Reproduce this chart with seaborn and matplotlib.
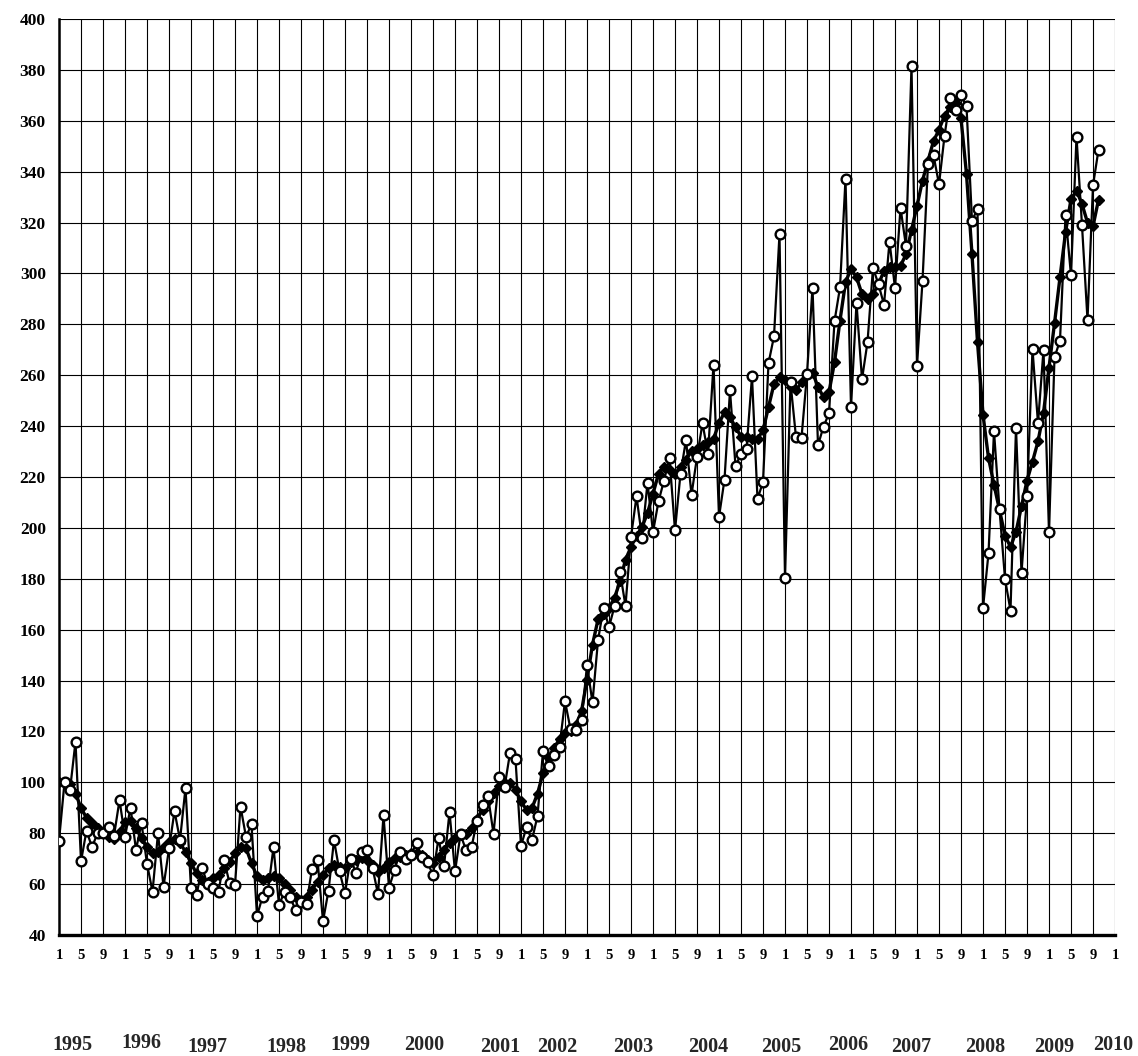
import numpy as np
import pandas as pd
import matplotlib
matplotlib.use("Agg")
import matplotlib.pyplot as plt
import seaborn as sns

# ---------------- data (monthly index, Jan 1995 = month 0) ----------------
monthly_values = [
    77, 100, 97, 116, 69, 81, 74.5, 80, 80, 82.5, 79, 93,
    78.6, 90, 73.5, 84, 68, 57, 80, 59, 74, 88.7, 77.3, 97.8,
    58.3, 55.7, 66.5, 60, 58.5, 57, 69.5, 60.5, 59.6, 90.5, 78.6, 83.5,
    47.5, 55, 57.4, 74.5, 51.8, 57, 54.8, 50, 53, 52.2, 66, 69.5,
    45.5, 57.4, 77.3, 65, 56.4, 70, 64.5, 72.7, 73.4, 66.5, 56, 87,
    58.6, 65.5, 72.6, 70, 71.4, 76, 70.7, 68.5, 63.6, 78, 67, 88.4,
    65, 79.5, 73.4, 74.4, 85, 91, 94.6, 79.8, 102, 98, 111.5, 109,
    75, 82.4, 77.3, 86.8, 112.2, 106.4, 110.6, 114, 131.9, 120.9, 120.5, 124.4,
    146, 131.4, 155.8, 168.6, 161, 169.2, 182.6, 169.4, 196.4, 212.4, 196.2, 217.7,
    198.4, 210.4, 218.6, 227.4, 199, 221.3, 234.6, 213, 227.8, 241.1, 229.1, 264.2,
    204.3, 219, 254, 224.3, 229.1, 231, 259.5, 211.4, 218, 264.7, 275.3, 315.5,
    180.4, 257.2, 235.6, 235.4, 260.5, 294.4, 232.5, 239.8, 245, 281.2, 294.5, 337.2,
    247.5, 288.4, 258.4, 273, 302.2, 295.7, 287.7, 312.5, 294.3, 325.8, 310.7, 381.6,
    263.8, 297, 343.2, 346.5, 335, 354, 368.8, 364.2, 370, 365.7, 320.8, 325.3,
    168.5, 190, 238, 207.3, 180, 167.5, 239.4, 182.3, 212.5, 270.2, 241.1, 270,
    198.2, 267, 273.6, 322.8, 299.2, 353.8, 318.9, 281.8, 334.6, 348.6,
]

trend_values = [
    100, 100, 99.5, 95.6, 90, 86, 84, 82, 80, 78.6, 77.6, 80.6,
    84.5, 85, 82, 78, 74.7, 72.1, 72.8, 74.7, 76.7, 77.8, 76.1, 72.8,
    68.2, 64.3, 61.7, 61, 62.3, 63.6, 66.2, 68.8, 72.1, 74.7, 74.1, 68.2,
    63, 61.7, 62.3, 63, 62.3, 60.1, 57.7, 55.1, 53.8, 55.1, 57.7, 61,
    63.6, 66.2, 67.5, 66.9, 66.2, 68.8, 69.5, 70.1, 69.5, 67.5, 64.9, 66.2,
    68.8, 70.1, 70.8, 71.4, 72.1, 72.3, 71.4, 69.5, 68.2, 70.8, 73.4, 76,
    78, 79.3, 79.8, 82, 85.5, 89.2, 92.5, 95.8, 98.4, 99.7, 99.7, 97.1,
    92.5, 89.2, 89.9, 95.5, 103.6, 109.5, 113.5, 117, 119.4, 120, 122.5, 127.9,
    140.4, 154.1, 164, 166, 168.5, 172.5, 179, 187.5, 192.5, 197, 200.3, 205.8,
    213.4, 221.3, 223.9, 222.6, 221.3, 223.9, 226.5, 230.4, 231, 232.4, 233.7, 235,
    241.1, 245.5, 243.5, 239.6, 235.9, 235.6, 235, 235, 238.3, 247.4, 256.6, 259.2,
    258, 255.3, 254, 257.2, 260.5, 261, 255.5, 251.3, 253.3, 265.1, 281.5, 296.5,
    301.8, 298.5, 291.9, 290, 291.9, 295.8, 301, 302.7, 302.7, 303, 307.5, 317,
    326.5, 336.5, 344.3, 352, 356.5, 362, 365.5, 367, 361, 339, 307.5, 273,
    244.5, 227.5, 217, 207, 197, 192.5, 198.4, 208.5, 218.6, 226, 234, 245.2,
    263, 280.4, 298.5, 316.1, 329.2, 332.5, 327.3, 320, 318.5, 329,
]

month_tick_labels = ["1", "5", "9"]
year_labels = ["1995", "1996", "1997", "1998", "1999", "2000", "2001", "2002",
               "2003", "2004", "2005", "2006", "2007", "2008", "2009", "2010"]
y_ticks = list(range(40, 401, 20))

# layout-only: where the (hand-placed) year captions sit, in month units
year_label_pos = [2.5, 15, 27, 41.3, 52.9, 66.4, 80.2, 90.5,
                  104.5, 118, 131.3, 143.5, 154.9, 168.4, 180.9, 191.6]
year_label_dy = [0, 1.5, -1.5, -1.5, 0, 0, -1.5, -1.5, -1.5, -1.5, -1.5, 0,
                 -1.5, -1.5, -1.5, 0]

df = pd.DataFrame({
    "month": np.arange(len(monthly_values)),
    "monthly": monthly_values,
    "trend": trend_values,
})

# ---------------- styling ----------------
sns.set_style("white")
plt.rcParams["font.family"] = ["Liberation Serif", "DejaVu Serif"]
plt.rcParams["font.weight"] = "bold"

fig = plt.figure(figsize=(11.38, 10.56), dpi=100)
ax = fig.add_axes([59 / 1138, 121 / 1056, (1115 - 59) / 1138, (1037 - 121) / 1056])

sns.lineplot(data=df, x="month", y="trend", ax=ax, color="black",
             linewidth=2.4, marker="D", markersize=5.2,
             markerfacecolor="black", markeredgecolor="black",
             markeredgewidth=1.0, zorder=3)
sns.lineplot(data=df, x="month", y="monthly", ax=ax, color="black",
             linewidth=1.6, marker="o", markersize=7.0,
             markerfacecolor="white", markeredgecolor="black",
             markeredgewidth=1.7, zorder=4)

n_months = 16 * 12
ax.set_xlim(0, n_months)
ax.set_ylim(40, 400)

xt = np.arange(0, n_months + 1, 4)
ax.set_xticks(xt)
ax.set_xticklabels([month_tick_labels[k % 3] for k in range(len(xt))],
                   fontsize=10.5, fontweight="bold")
ax.set_yticks(y_ticks)
ax.set_yticklabels([str(v) for v in y_ticks], fontsize=12.5, fontweight="bold")

ax.grid(True, color="black", linewidth=0.8)
ax.set_axisbelow(True)
ax.set_xlabel("")
ax.set_ylabel("")

for side in ["top", "right"]:
    ax.spines[side].set_visible(False)
ax.spines["left"].set_linewidth(1.8)
ax.spines["bottom"].set_linewidth(2.4)
ax.spines["left"].set_color("black")
ax.spines["bottom"].set_color("black")

ax.tick_params(axis="y", direction="inout", length=11, width=1.8, pad=4,
               colors="black")
ax.tick_params(axis="x", direction="inout", length=8, width=1.8, pad=6,
               colors="black")

for lbl, pos, dy in zip(year_labels, year_label_pos, year_label_dy):
    ax.annotate(lbl, xy=(pos, 0), xycoords=("data", "axes fraction"),
                xytext=(0, -79 + dy), textcoords="offset points",
                ha="center", va="center", fontsize=14.5, fontweight="bold",
                annotation_clip=False)

fig.savefig("out.png", dpi=100)
